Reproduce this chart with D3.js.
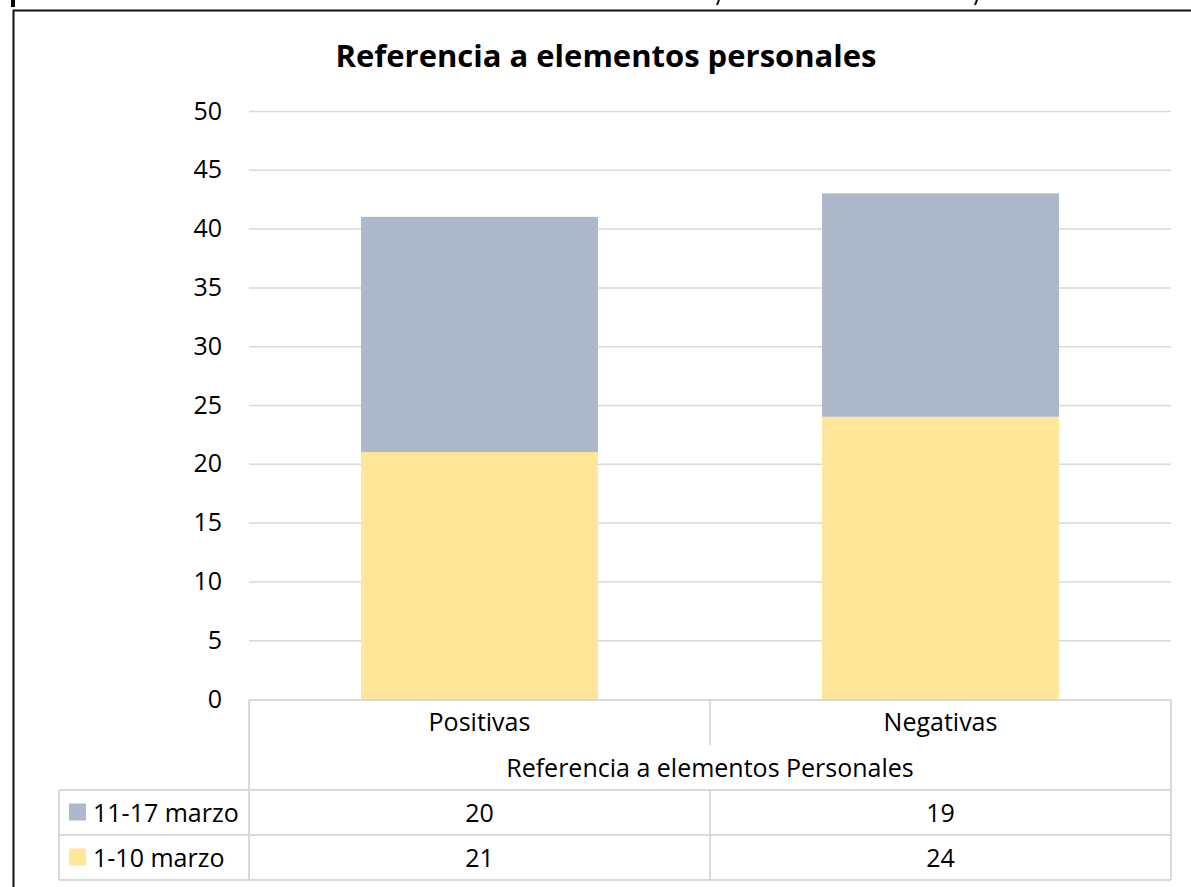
<!DOCTYPE html>
<html>
<head>
<meta charset="utf-8">
<script src="https://cdn.jsdelivr.net/npm/d3@7"></script>
<style>
  body { margin: 0; background: #fff; }
  svg { display: block; font-family: "Open Sans", sans-serif; }
</style>
</head>
<body>
<svg width="1191" height="887"></svg>
<script>
  // chart values
  const categories = ['Positivas', 'Negativas']
  const seriesNames = ['1-10 marzo', '11-17 marzo']   // bottom to top in the stack
  const marzo1a10 = [21, 24]
  const marzo11a17 = [20, 19]
  const yTicks = [0, 5, 10, 15, 20, 25, 30, 35, 40, 45, 50]

  const title = 'Referencia a elementos personales'
  const axisTitle = 'Referencia a elementos Personales'

  const yellow = '#FFE699'
  const grey = '#ADB9CA'
  const gridColor = '#D9D9D9'

  const plot = {left: 249, right: 1171, top: 111, bottom: 699}
  const table = {left: 59, top: 700, catRow: 745, axisRow: 790, row1: 835, row2: 880}

  const svg = d3.select('svg')

  // the outer frame, half cut off by the screenshot
  svg.append('rect').attr('x', 11).attr('y', 0).attr('width', 4).attr('height', 7).attr('fill', '#000')
  svg.append('path')
    .attr('d', `M13.5,887 V10.5 H1191`)
    .attr('fill', 'none').attr('stroke', '#111').attr('stroke-width', 2)
  // bits of clipped glyphs above the frame
  ;[719, 977].forEach(x => {
    svg.append('path').attr('d', `M${x},0 L${x - 2},5`)
      .attr('stroke', '#000').attr('stroke-width', 2)
  })

  const x = d3.scaleBand(categories, [plot.left, plot.right])
    .paddingInner(0.486).paddingOuter(0.243)
  const y = d3.scaleLinear([0, 50], [plot.bottom, plot.top])

  // gridlines
  svg.append('g').selectAll('line').data(yTicks.filter(d => d > 0)).enter()
    .append('line')
      .attr('x1', plot.left).attr('x2', plot.right)
      .attr('y1', d => y(d) + 0.5).attr('y2', d => y(d) + 0.5)
      .attr('stroke', gridColor).attr('stroke-width', 1.5)

  // y axis labels
  const yAxis = d3.axisLeft(y).tickValues(yTicks).tickSize(0).tickPadding(27)
  svg.append('g')
    .attr('transform', `translate(${plot.left}, 0)`)
    .call(yAxis)
    .call(g => g.select('.domain').remove())
    .call(g => g.selectAll('text')
      .attr('font-family', '"Open Sans", sans-serif')
      .attr('font-size', 25)
      .attr('fill', '#000'))

  // stacked bars
  const rows = categories.map((c, i) => ({cat: c, '1-10 marzo': marzo1a10[i], '11-17 marzo': marzo11a17[i]}))
  const stacked = d3.stack().keys(seriesNames)(rows)
  const color = d3.scaleOrdinal(seriesNames, [yellow, grey])

  svg.append('g').selectAll('g').data(stacked).enter()
    .append('g')
      .attr('fill', d => color(d.key))
    .selectAll('rect').data(d => d).enter()
    .append('rect')
      .attr('x', d => x(d.data.cat))
      .attr('width', x.bandwidth())
      .attr('y', d => y(d[1]))
      .attr('height', d => y(d[0]) - y(d[1]))

  // title
  svg.append('text')
    .attr('x', 606).attr('y', 67)
    .attr('text-anchor', 'middle')
    .attr('font-size', 31).attr('font-weight', 'bold')
    .text(title)

  // data table
  const tbl = svg.append('g').attr('stroke', gridColor).attr('stroke-width', 2).attr('fill', 'none')
  const mid = x(categories[1]) - x.step() * x.paddingInner() / 2
  const lines = [
    [plot.left, table.top, plot.right, table.top],
    [table.left, table.axisRow, plot.right, table.axisRow],
    [table.left, table.row1, plot.right, table.row1],
    [table.left, table.row2, plot.right, table.row2],
    [table.left, table.axisRow, table.left, table.row2],
    [plot.left, table.top, plot.left, table.row2],
    [plot.right, table.top, plot.right, table.row2],
    [mid, table.top, mid, table.catRow],
    [mid, table.axisRow, mid, table.row2]
  ]
  tbl.selectAll('line').data(lines).enter()
    .append('line')
      .attr('x1', d => d[0]).attr('y1', d => d[1])
      .attr('x2', d => d[2]).attr('y2', d => d[3])

  const txt = svg.append('g').attr('font-size', 25).attr('fill', '#000')

  categories.forEach(c => {
    txt.append('text')
      .attr('x', x(c) + x.bandwidth() / 2).attr('y', 731)
      .attr('text-anchor', 'middle').text(c)
  })
  txt.append('text')
    .attr('x', (plot.left + plot.right) / 2).attr('y', 777)
    .attr('text-anchor', 'middle').text(axisTitle)

  // table rows: top series first, like Excel does
  const tableRows = [
    {name: seriesNames[1], values: marzo11a17, y0: table.axisRow},
    {name: seriesNames[0], values: marzo1a10, y0: table.row1}
  ]
  tableRows.forEach(r => {
    const cy = r.y0 + 22.5
    svg.append('rect')
      .attr('x', 69).attr('y', cy - 9).attr('width', 17).attr('height', 17)
      .attr('fill', color(r.name))
    txt.append('text')
      .attr('x', 93).attr('y', cy + 9).text(r.name)
    r.values.forEach((v, i) => {
      txt.append('text')
        .attr('x', x(categories[i]) + x.bandwidth() / 2).attr('y', cy + 9)
        .attr('text-anchor', 'middle').text(v)
    })
  })
</script>
</body>
</html>
